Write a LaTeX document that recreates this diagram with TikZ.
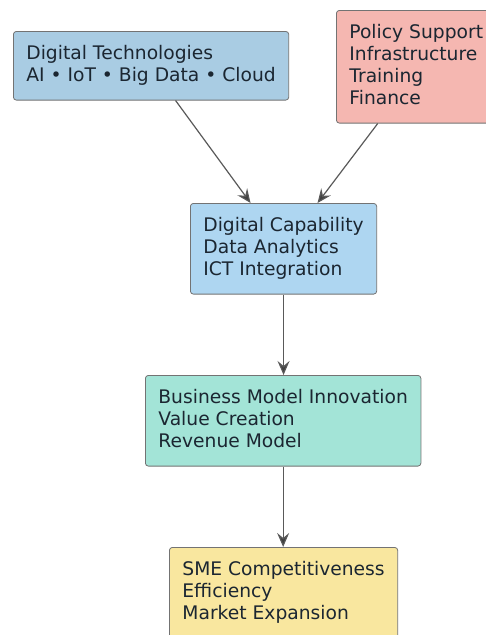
\documentclass[tikz,border=0pt]{standalone}
\usepackage{fontspec}
\setmainfont{DejaVu Sans}
\usetikzlibrary{arrows.meta}
\definecolor{techblue}{HTML}{A9CCE3}
\definecolor{capblue}{HTML}{AED6F1}
\definecolor{policyred}{HTML}{F5B7B1}
\definecolor{bmteal}{HTML}{A3E4D7}
\definecolor{smeyellow}{HTML}{F9E79F}
\definecolor{boxtext}{HTML}{1B2631}
\begin{document}
\begin{tikzpicture}[x=1pt,y=-1pt,
  every node/.style={font=\fontsize{18.7}{22}\selectfont,text=boxtext},
  stage/.style={draw=black!55,line width=0.8pt,rounded corners=3pt,align=left,
    anchor=north west,inner xsep=13pt,inner ysep=14pt,
    execute at begin node={\rule{0pt}{14.5pt}},
    execute at end node={\rule[-4.5pt]{0pt}{4.5pt}}},
  flow/.style={draw=black!65,line width=1.2pt,-{Stealth[length=14pt,width=12pt,inset=5pt,fill=black!75]}}]
\useasboundingbox (0,0) rectangle (485,635);
\node[stage,fill=techblue] (tech) at (13,31) {Digital Technologies\\AI • IoT • Big Data • Cloud};
\node[stage,fill=policyred] (policy) at (336,10) {Policy Support\\Infrastructure\\Training\\Finance};
\node[stage,fill=capblue] (cap) at (190,203) {Digital Capability\\Data Analytics\\ICT Integration};
\node[stage,fill=bmteal] (bmi) at (145,375) {Business Model Innovation\\Value Creation\\Revenue Model};
\node[stage,fill=smeyellow] (sme) at (169,547) {SME Competitiveness\\Efficiency\\Market Expansion};
\draw[flow] ([xshift=24.5pt]tech.south) -- ([xshift=-33pt]cap.north);
\draw[flow] ([xshift=-38.5pt]policy.south) -- ([xshift=34pt]cap.north);
\draw[flow] (cap.south) -- (cap.south |- bmi.north);
\draw[flow] (bmi.south) -- (bmi.south |- sme.north);
\end{tikzpicture}
\end{document}
